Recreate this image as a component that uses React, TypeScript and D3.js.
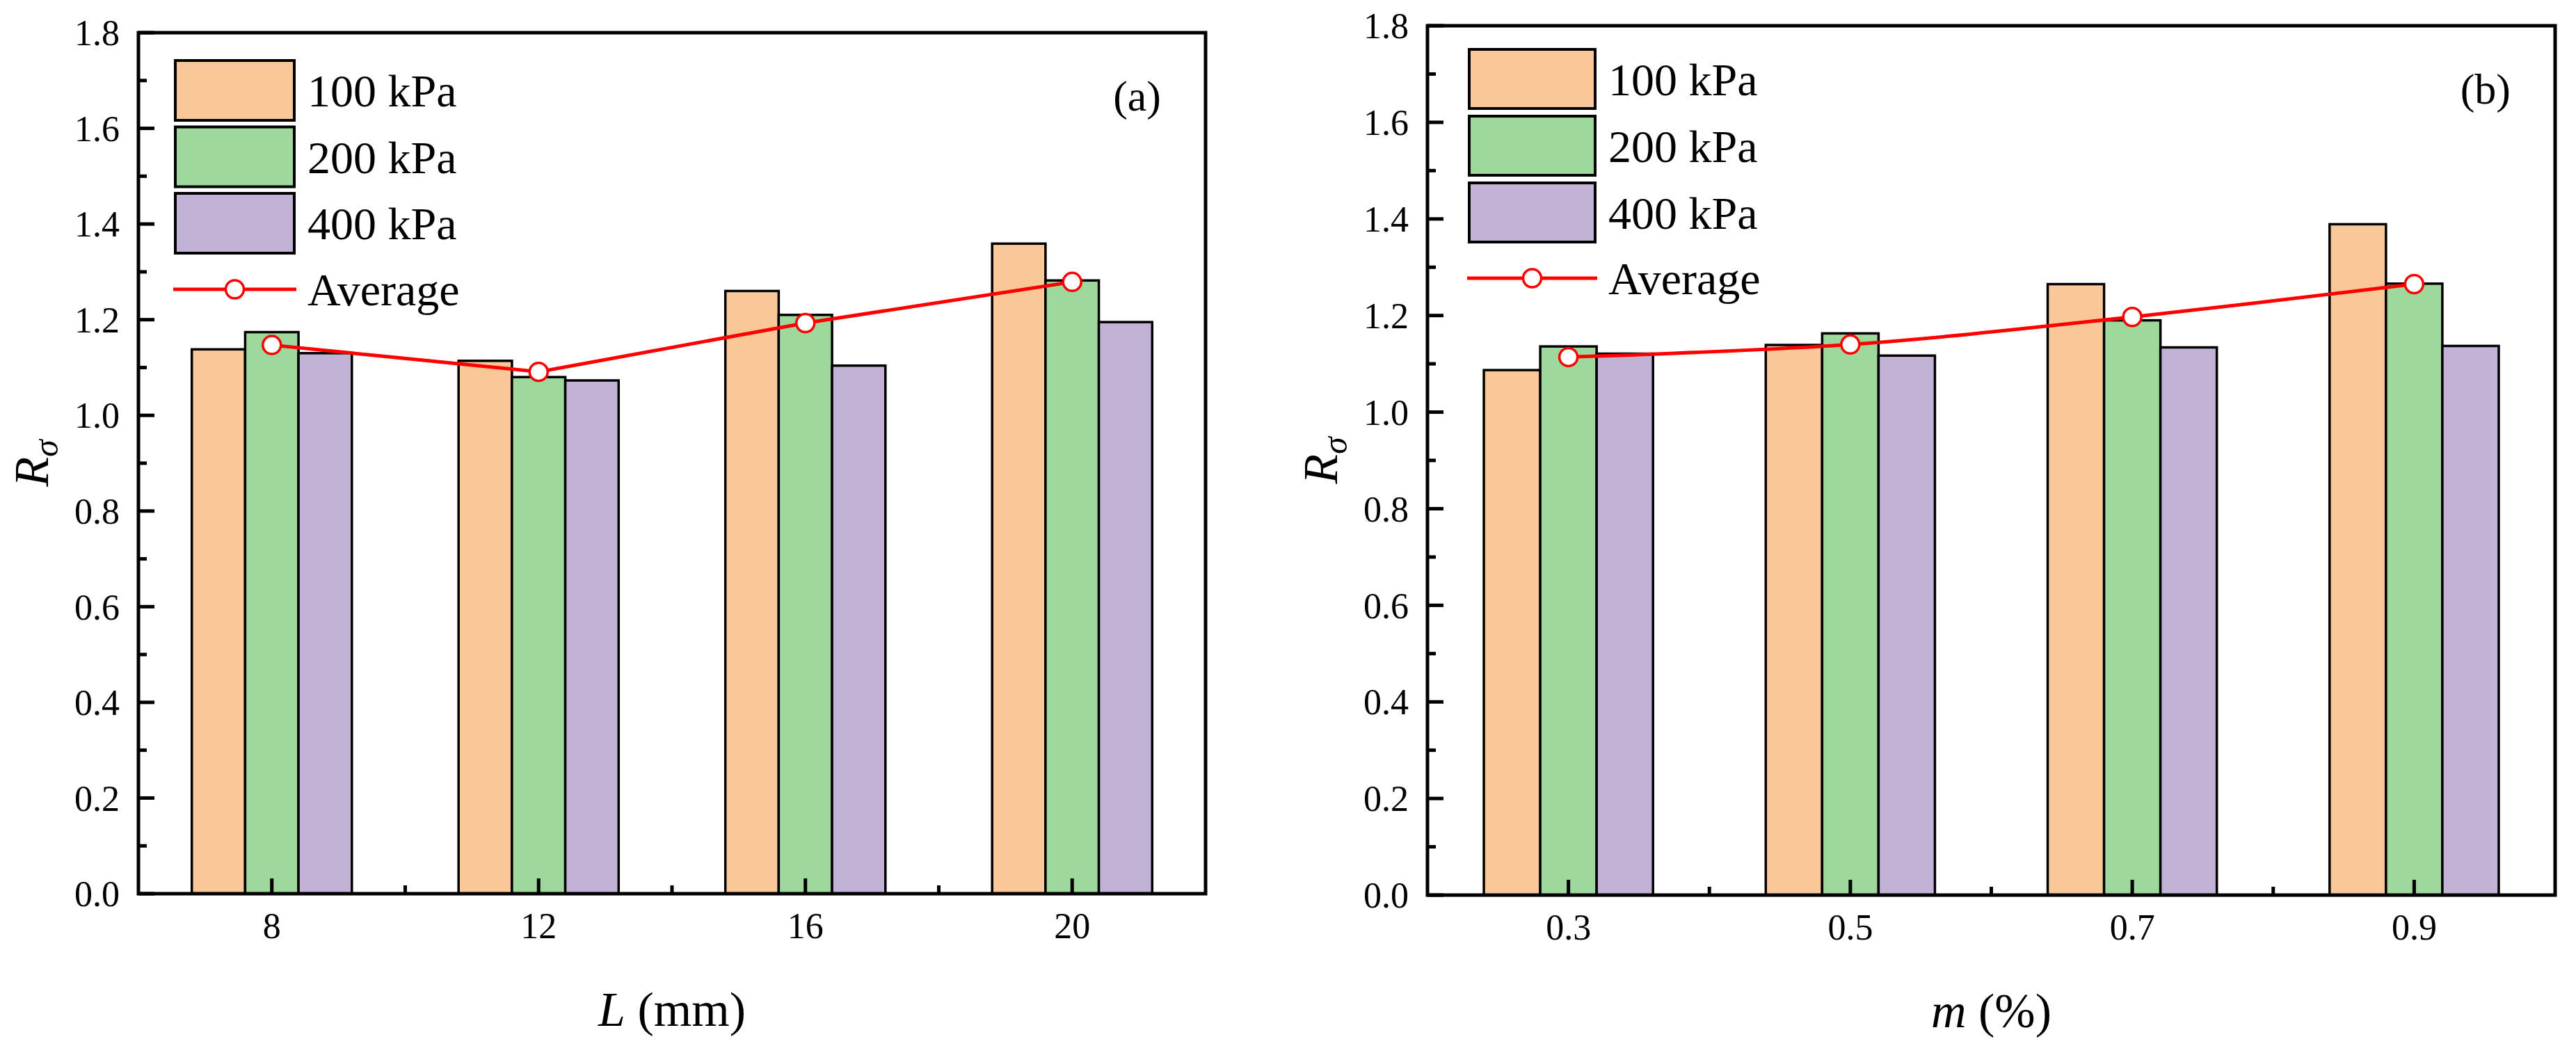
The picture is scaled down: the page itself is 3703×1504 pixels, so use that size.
import React from 'react';
import * as d3 from 'd3';

// (a) fibre length L (mm)
const lengthCategories = [8, 12, 16, 20];
const lengthTickLabels = ['8', '12', '16', '20'];
const length100 = [1.138, 1.114, 1.26, 1.359];
const length200 = [1.174, 1.08, 1.21, 1.282];
const length400 = [1.13, 1.073, 1.104, 1.195];
const lengthAverage = [1.147, 1.091, 1.193, 1.279];
const lengthMinorTicks = [10, 14, 18];

// (b) fibre content m (%)
const contentCategories = [0.3, 0.5, 0.7, 0.9];
const contentTickLabels = ['0.3', '0.5', '0.7', '0.9'];
const content100 = [1.087, 1.139, 1.265, 1.389];
const content200 = [1.136, 1.163, 1.19, 1.266];
const content400 = [1.121, 1.117, 1.134, 1.137];
const contentAverage = [1.114, 1.14, 1.197, 1.265];
const contentMinorTicks = [0.4, 0.6, 0.8];

const seriesNames = ['100 kPa', '200 kPa', '400 kPa'];
const averageName = 'Average';
const yMajorTicks = [0, 0.2, 0.4, 0.6, 0.8, 1.0, 1.2, 1.4, 1.6, 1.8];
const yMinorTicks = [0.1, 0.3, 0.5, 0.7, 0.9, 1.1, 1.3, 1.5, 1.7];

const colors = ['#FAC898', '#9ED89C', '#C2B2D6'];
const lineColor = '#FF0000';
const FONT = "'Liberation Serif', 'Times New Roman', serif";

interface Frame { x0: number; x1: number; y0: number; y1: number; }
interface LegendLayout { dx: number; dy: number; boxW: number; boxH: number; pitch: number; lineDy: number; textDx: number; }

interface PanelProps {
  frame: Frame;
  xDomain: [number, number];
  categories: number[];
  tickLabels: string[];
  minorTicks: number[];
  series: number[][];
  average: number[];
  barUnits: number;
  smooth: boolean;
  tag: string;
  xTitle: React.ReactNode;
  legend: LegendLayout;
}

const Panel: React.FC<PanelProps> = ({
  frame, xDomain, categories, tickLabels, minorTicks, series, average, barUnits, smooth, tag, xTitle, legend,
}) => {
  const x = d3.scaleLinear().domain(xDomain).range([frame.x0, frame.x1]);
  const y = d3.scaleLinear().domain([0, 1.8]).range([frame.y1, frame.y0]);
  const bw = x(xDomain[0] + barUnits) - x(xDomain[0]);

  const line = d3.line<number>()
    .x((_, i) => x(categories[i]))
    .y(d => y(d))
    .curve(smooth ? d3.curveCatmullRom.alpha(0.5) : d3.curveLinear);

  const lx = frame.x0 + legend.dx;
  const ly = frame.y0 + legend.dy;

  return (
    <g fontFamily={FONT}>
      {/* bars */}
      {series.map((vals, s) =>
        vals.map((v, i) => (
          <rect
            key={`b-${s}-${i}`}
            x={x(categories[i]) + (s - 1.5) * bw}
            y={y(v)}
            width={bw}
            height={y(0) - y(v)}
            fill={colors[s]}
            stroke="#000"
            strokeWidth={3.5}
          />
        ))
      )}

      {/* average line */}
      <path d={line(average) || ''} fill="none" stroke={lineColor} strokeWidth={5} />
      {average.map((v, i) => (
        <circle key={`m-${i}`} cx={x(categories[i])} cy={y(v)} r={13} fill="#fff" stroke={lineColor} strokeWidth={3.5} />
      ))}

      {/* frame */}
      <rect x={frame.x0} y={frame.y0} width={frame.x1 - frame.x0} height={frame.y1 - frame.y0} fill="none" stroke="#000" strokeWidth={5} />

      {/* y ticks */}
      {yMajorTicks.map(t => (
        <g key={`yt-${t}`}>
          <line x1={frame.x0} x2={frame.x0 + 23} y1={y(t)} y2={y(t)} stroke="#000" strokeWidth={5} />
          <text x={frame.x0 - 27} y={y(t)} dy="0.35em" textAnchor="end" fontSize={52}>{t.toFixed(1)}</text>
        </g>
      ))}
      {yMinorTicks.map(t => (
        <line key={`ym-${t}`} x1={frame.x0} x2={frame.x0 + 12} y1={y(t)} y2={y(t)} stroke="#000" strokeWidth={5} />
      ))}

      {/* x ticks */}
      {categories.map((c, i) => (
        <g key={`xt-${c}`}>
          <line x1={x(c)} x2={x(c)} y1={frame.y1} y2={frame.y1 - 22} stroke="#000" strokeWidth={5} />
          <text x={x(c)} y={frame.y1 + 64} textAnchor="middle" fontSize={52}>{tickLabels[i]}</text>
        </g>
      ))}
      {minorTicks.map(t => (
        <line key={`xm-${t}`} x1={x(t)} x2={x(t)} y1={frame.y1} y2={frame.y1 - 12} stroke="#000" strokeWidth={5} />
      ))}

      {/* axis titles */}
      <text x={(frame.x0 + frame.x1) / 2} y={frame.y1 + 190} textAnchor="middle" fontSize={70}>{xTitle}</text>
      <text
        transform={`translate(${frame.x0 - 130}, ${(frame.y0 + frame.y1) / 2}) rotate(-90)`}
        textAnchor="middle"
        fontSize={70}
      >
        <tspan fontStyle="italic">R</tspan>
        <tspan fontStyle="italic" fontSize={50} dy={14}>σ</tspan>
      </text>

      {/* panel tag */}
      <text x={frame.x1 - 64} y={frame.y0 + 90} dy="0.35em" textAnchor="end" fontSize={62}>{tag}</text>

      {/* legend */}
      {seriesNames.map((name, s) => (
        <g key={`lg-${s}`}>
          <rect x={lx} y={ly + s * legend.pitch} width={legend.boxW} height={legend.boxH} fill={colors[s]} stroke="#000" strokeWidth={4} />
          <text x={lx + legend.boxW + legend.textDx} y={ly + s * legend.pitch + legend.boxH / 2} dy="0.35em" fontSize={66}>{name}</text>
        </g>
      ))}
      <line x1={lx - 3} x2={lx + legend.boxW + 3} y1={ly + legend.lineDy} y2={ly + legend.lineDy} stroke={lineColor} strokeWidth={5} />
      <circle cx={lx + legend.boxW / 2} cy={ly + legend.lineDy} r={13} fill="#fff" stroke={lineColor} strokeWidth={3.5} />
      <text x={lx + legend.boxW + legend.textDx} y={ly + legend.lineDy} dy="0.35em" fontSize={66}>{averageName}</text>
    </g>
  );
};

const App: React.FC = () => (
  <svg
    width={3703}
    height={1504}
    style={{ position: 'absolute', left: 0, top: 0, background: '#fff' }}
  >
    <rect width={3703} height={1504} fill="#fff" />
    <Panel
      frame={{ x0: 199, x1: 1733, y0: 47, y1: 1285 }}
      xDomain={[6, 22]}
      categories={lengthCategories}
      tickLabels={lengthTickLabels}
      minorTicks={lengthMinorTicks}
      series={[length100, length200, length400]}
      average={lengthAverage}
      barUnits={0.8}
      smooth={false}
      tag="(a)"
      xTitle={<><tspan fontStyle="italic">L</tspan> (mm)</>}
      legend={{ dx: 53, dy: 40, boxW: 171, boxH: 86, pitch: 95.5, lineDy: 329, textDx: 19 }}
    />
    <Panel
      frame={{ x0: 2052, x1: 3673, y0: 37, y1: 1287 }}
      xDomain={[0.2, 1.0]}
      categories={contentCategories}
      tickLabels={contentTickLabels}
      minorTicks={contentMinorTicks}
      series={[content100, content200, content400]}
      average={contentAverage}
      barUnits={0.04}
      smooth={true}
      tag="(b)"
      xTitle={<><tspan fontStyle="italic">m</tspan> (%)</>}
      legend={{ dx: 60, dy: 34, boxW: 181, boxH: 85, pitch: 96, lineDy: 329, textDx: 19 }}
    />
  </svg>
);

export default App;
